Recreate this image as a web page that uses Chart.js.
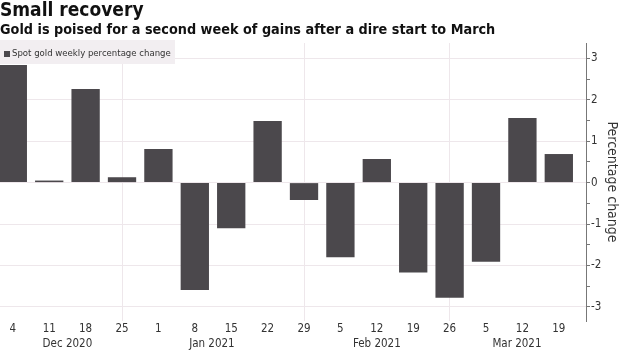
<!DOCTYPE html>
<html>
<head>
<meta charset="utf-8">
<script src="https://cdn.jsdelivr.net/npm/chart.js@4.4.1/dist/chart.umd.min.js"></script>
<style>
  html, body { margin: 0; padding: 0; background: #fff; }
  #wrap { position: relative; width: 620px; height: 351px; overflow: hidden; }
  #c { position: absolute; left: 0; top: 0; }
  .t1 { position: absolute; left: 0; top: -2px; font: bold 19px "DejaVu Sans Condensed", "DejaVu Sans"; color: #111; white-space: nowrap; }
  .t2 { position: absolute; left: 0; top: 21px; font: bold 14.3px "DejaVu Sans Condensed", "DejaVu Sans"; color: #111; white-space: nowrap; }
  .lg { position: absolute; left: 0; top: 40px; width: 175px; height: 24px; background: #f2eef1; }
  .lg .sq { position: absolute; left: 4px; top: 11px; width: 6px; height: 6px; background: #4b484c; }
  .lg .tx { position: absolute; left: 12px; top: 7px; font: 9.5px "DejaVu Sans Condensed", "DejaVu Sans"; color: #333; white-space: nowrap; }
</style>
</head>
<body>
<div id="wrap">
  <canvas id="c" width="620" height="351"></canvas>
  <div class="t1">Small recovery</div>
  <div class="t2">Gold is poised for a second week of gains after a dire start to March</div>
  <div class="lg"><div class="sq"></div><div class="tx">Spot gold weekly percentage change</div></div>
</div>
<script>
const dayLabels = ["4","11","18","25","1","8","15","22","29","5","12","19","26","5","12","19"];
const weeklyChange = [2.84, 0.05, 2.26, 0.13, 0.81, -2.59, -1.10, 1.49, -0.42, -1.80, 0.57, -2.17, -2.78, -1.91, 1.56, 0.69];
const monthLabels = ["Dec 2020", "Jan 2021", "Feb 2021", "Mar 2021"];
const monthTickPos = [1.5, 5.47, 10, 13.85];
const monthEndWeeks = [3, 8, 12];
const yTickValues = [-3, -2.5, -2, -1.5, -1, -0.5, 0, 0.5, 1, 1.5, 2, 2.5, 3];
const seriesName = "Spot gold weekly percentage change";

const tickFont = { family: "DejaVu Sans Condensed", size: 11.5 };
const xMin = -0.352, xMax = 15.747;

new Chart(document.getElementById('c'), {
  type: 'bar',
  data: {
    datasets: [{
      label: seriesName,
      data: weeklyChange.map((v, i) => ({ x: i, y: v })),
      backgroundColor: '#4b484c',
      borderWidth: 0,
      categoryPercentage: 1,
      barPercentage: 0.778,
      xAxisID: 'x',
      yAxisID: 'y'
    }]
  },
  options: {
    responsive: false,
    animation: false,
    layout: { padding: { top: 43, left: 0, right: 0, bottom: 0 } },
    plugins: { legend: { display: false }, tooltip: { enabled: false } },
    scales: {
      x: {
        type: 'linear', position: 'bottom', min: xMin, max: xMax, offset: false,
        afterBuildTicks: s => { s.ticks = dayLabels.map((_, i) => ({ value: i })); },
        afterFit: s => { s.height = 15; },
        ticks: { autoSkip: false, maxRotation: 0, padding: 1, color: '#333', font: tickFont,
                 callback: v => dayLabels[v] },
        grid: { offset: false, drawTicks: false, color: c => monthEndWeeks.includes(c.tick && c.tick.value) ? '#eee7eb' : 'rgba(0,0,0,0)' },
        border: { display: false }
      },
      x2: {
        type: 'linear', position: 'bottom', min: xMin, max: xMax, offset: false,
        afterBuildTicks: s => { s.ticks = monthTickPos.map(p => ({ value: p })); },
        afterFit: s => { s.height = 15; },
        ticks: { autoSkip: false, maxRotation: 0, padding: 1, color: '#333', font: tickFont,
                 callback: (v, i) => monthLabels[i] },
        grid: { display: false, drawTicks: false, offset: false },
        border: { display: false }
      },
      y: {
        type: 'linear', position: 'right', min: -3.34, max: 3.37,
        afterBuildTicks: s => { s.ticks = yTickValues.map(v => ({ value: v })); },
        afterFit: s => { s.width = 34; },
        ticks: { padding: 1, color: '#333', font: tickFont,
                 callback: v => Number.isInteger(v) ? String(v) : '' },
        grid: { drawTicks: true, tickLength: 4, tickColor: '#777',
                color: c => (c.tick && Number.isInteger(c.tick.value)) ? '#eee7eb' : 'rgba(0,0,0,0)' },
        border: { display: true, color: '#777', width: 1 },
        title: { display: true, text: 'Percentage change', color: '#333',
                 font: { family: "DejaVu Sans Condensed", size: 14 }, padding: { top: 0, bottom: 2 } }
      }
    }
  }
});
</script>
</body>
</html>
